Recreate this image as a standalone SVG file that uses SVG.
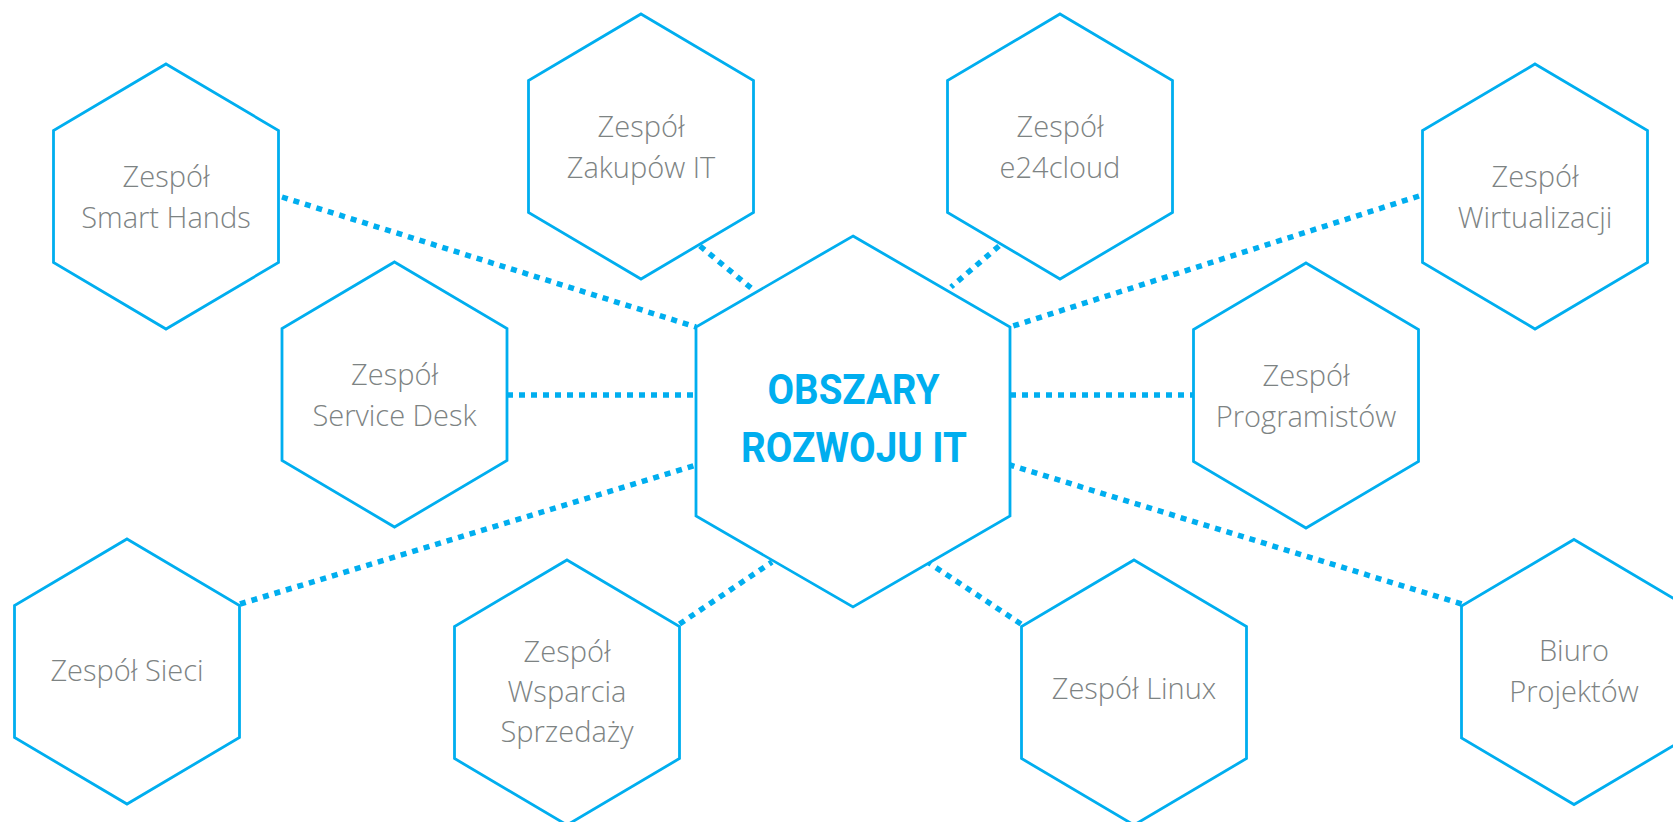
<svg xmlns="http://www.w3.org/2000/svg" xmlns:xlink="http://www.w3.org/1999/xlink" width="1673" height="822" viewBox="0 0 1673 822">
<style>
.hex{fill:#fff;stroke:#00AEEF;stroke-width:2.8;stroke-linejoin:miter}
.lbl{font-family:"Open Sans","Liberation Sans",sans-serif;font-weight:300;font-size:29px;fill:#7d8383;text-anchor:middle}
.title{font-family:Roboto,"Liberation Sans",sans-serif;font-weight:700;font-size:43px;fill:#00AEEF;text-anchor:middle}
.conn{stroke:#00AEEF;stroke-width:5.5;stroke-dasharray:6 6;fill:none}
</style>
<defs>
<polygon id="hx" points="0,-132.5 112.5,-66 112.5,66 0,132.5 -112.5,66 -112.5,-66"/>
</defs>
<rect width="1673" height="822" fill="#fff"/>
<g id="connectors">
<line class="conn" x1="282" y1="197" x2="696" y2="327"/>
<line class="conn" x1="700" y1="246" x2="751" y2="288"/>
<line class="conn" x1="999" y1="246" x2="951" y2="287"/>
<line class="conn" x1="1419" y1="196" x2="1010" y2="327"/>
<line class="conn" x1="507" y1="395" x2="696" y2="395"/>
<line class="conn" x1="1010" y1="395" x2="1194" y2="395"/>
<line class="conn" x1="240" y1="604" x2="696" y2="465"/>
<line class="conn" x1="679.5" y1="624" x2="772" y2="562"/>
<line class="conn" x1="1021" y1="624" x2="929" y2="563"/>
<line class="conn" x1="1461.6" y1="604" x2="1010" y2="465"/>
</g>
<g id="center">
<polygon class="hex" points="853,236 1010,327 1010,516 853,607 696,516 696,327"/>
<text class="title" x="853.5" y="404" textLength="172" lengthAdjust="spacingAndGlyphs">OBSZARY</text>
<text class="title" x="854" y="462" textLength="226" lengthAdjust="spacingAndGlyphs">ROZWOJU IT</text>
</g>
<g id="smart-hands">
<use xlink:href="#hx" href="#hx" class="hex" x="166" y="196.5"/>
<text class="lbl" x="166" y="187">Zespół</text>
<text class="lbl" x="166" y="228">Smart Hands</text>
</g>
<g id="zakupow-it">
<use xlink:href="#hx" href="#hx" class="hex" x="641" y="146.5"/>
<text class="lbl" x="641" y="137">Zespół</text>
<text class="lbl" x="641" y="178">Zakupów IT</text>
</g>
<g id="e24cloud">
<use xlink:href="#hx" href="#hx" class="hex" x="1060" y="146.5"/>
<text class="lbl" x="1060" y="137">Zespół</text>
<text class="lbl" x="1060" y="178">e24cloud</text>
</g>
<g id="wirtualizacji">
<use xlink:href="#hx" href="#hx" class="hex" x="1535" y="196.5"/>
<text class="lbl" x="1535" y="187">Zespół</text>
<text class="lbl" x="1535" y="228">Wirtualizacji</text>
</g>
<g id="service-desk">
<use xlink:href="#hx" href="#hx" class="hex" x="394.5" y="394.5"/>
<text class="lbl" x="394.5" y="385">Zespół</text>
<text class="lbl" x="394.5" y="426">Service Desk</text>
</g>
<g id="programistow">
<use xlink:href="#hx" href="#hx" class="hex" x="1306" y="395.5"/>
<text class="lbl" x="1306" y="386">Zespół</text>
<text class="lbl" x="1306" y="427">Programistów</text>
</g>
<g id="sieci">
<use xlink:href="#hx" href="#hx" class="hex" x="127" y="671.5"/>
<text class="lbl" x="127" y="681">Zespół Sieci</text>
</g>
<g id="wsparcia-sprzedazy">
<use xlink:href="#hx" href="#hx" class="hex" x="567" y="692.5"/>
<text class="lbl" x="567" y="662">Zespół</text>
<text class="lbl" x="567" y="702">Wsparcia</text>
<text class="lbl" x="567" y="742">Sprzedaży</text>
</g>
<g id="linux">
<use xlink:href="#hx" href="#hx" class="hex" x="1134" y="692.5"/>
<text class="lbl" x="1134" y="699">Zespół Linux</text>
</g>
<g id="biuro-projektow">
<use xlink:href="#hx" href="#hx" class="hex" x="1574" y="672"/>
<text class="lbl" x="1574" y="661">Biuro</text>
<text class="lbl" x="1574" y="702">Projektów</text>
</g>
</svg>
